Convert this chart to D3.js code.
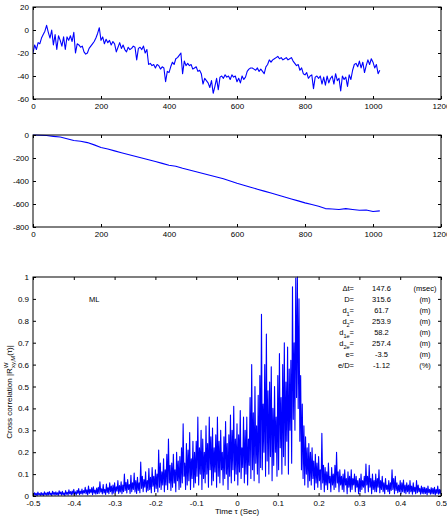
<!DOCTYPE html>
<meta charset="utf-8">
<style>
    body { margin: 0; background: #fff; }
    text { font-family: "Liberation Sans", Arial, sans-serif; fill: #000; }
    .axis text { font-size: 8px; }
    .axis path { display: none; }
    .axis line { stroke: #000; stroke-width: 1; }
    .frame { fill: none; stroke: #000; stroke-width: 1; }
    .trace { fill: none; stroke: #0000ff; stroke-width: 1.1; stroke-linejoin: round; }
    .note { font-size: 7.5px; }
</style>
<svg width="447" height="516"></svg>
<script src="https://d3js.org/d3.v7.min.js"></script>
<script>

    // panel 1: lateral offset, one value every 5 samples (0..1020)
    var offsetStep = 5;
    var offsetValues = [
        -20, -13, -17, -11, -12, -7, -4, -1,
        4, -2, -7, 0, -13, -4, -17, -5,
        -9, -14, -6, -17, -6, -9, -5, -10,
        -2, -20, -12, -13, -15, -14, -19, -21,
        -20, -16, -14, -12, -10, -7, -3, 2,
        -9, -6, -12, -8, -11, -9, -13, -10,
        -12, -19, -15, -11, -16, -13, -17, -19,
        -15, -17, -16, -14, -15, -26, -16, -15,
        -17, -14, -20, -17, -30, -29, -31, -30,
        -33, -30, -31, -34, -32, -33, -45, -36,
        -37, -32, -28, -30, -25, -24, -22, -20,
        -38, -27, -31, -29, -31, -30, -34, -33,
        -32, -36, -35, -38, -47, -42, -44, -46,
        -50, -44, -55, -49, -42, -52, -41, -40,
        -42, -39, -41, -40, -43, -39, -41, -40,
        -45, -42, -46, -40, -43, -41, -36, -34,
        -33, -33, -34, -35, -33, -36, -34, -36,
        -38, -32, -30, -26, -28, -26, -25, -24,
        -23, -25, -24, -26, -25, -24, -26, -25,
        -24, -27, -29, -31, -30, -35, -33, -38,
        -39, -37, -42, -40, -39, -51, -41, -40,
        -42, -40, -47, -41, -48, -40, -46, -42,
        -40, -47, -38, -44, -42, -53, -40, -43,
        -41, -49, -39, -43, -35, -30, -29, -32,
        -27, -33, -28, -37, -31, -26, -30, -25,
        -28, -33, -30, -38, -35
    ];

    // panel 2: cumulative drift, one value every 20 samples (0..1020)
    var driftStep = 20;
    var driftValues = [
        0, -2, -5, -12, -18, -32, -48, -55, -66, -86,
        -108, -122, -138, -154, -169, -185, -200, -215, -231, -247,
        -263, -272, -289, -304, -319, -335, -350, -365, -381, -400,
        -420, -437, -454, -471, -488, -505, -522, -539, -556, -573,
        -590, -605, -620, -640, -643, -648, -640, -648, -655, -652,
        -665, -660
    ];

    // panel 3: cross correlation, lag from -0.5 s every 2 ms
    var lagStart = -0.5, lagStep = 0.002;
    var corrValues = [
        0.010, 0.002, 0.015, 0.005, 0.012, 0.001, 0.018, 0.006, 0.011, 0.003,
        0.016, 0.004, 0.012, 0.002, 0.019, 0.007, 0.014, 0.003, 0.017, 0.005,
        0.02, 0.006, 0.013, 0.002, 0.022, 0.008, 0.016, 0.004, 0.019, 0.007,
        0.015, 0.003, 0.024, 0.009, 0.018, 0.004, 0.021, 0.006, 0.014, 0.002,
        0.025, 0.008, 0.017, 0.004, 0.028, 0.01, 0.02, 0.005, 0.023, 0.007,
        0.03, 0.009, 0.019, 0.005, 0.026, 0.012, 0.034, 0.006, 0.022, 0.01,
        0.032, 0.008, 0.025, 0.014, 0.04, 0.01, 0.028, 0.005, 0.045, 0.012,
        0.03, 0.015, 0.038, 0.006, 0.042, 0.013, 0.027, 0.008, 0.036, 0.011,
        0.04, 0.012, 0.065, 0.018, 0.033, 0.009, 0.052, 0.014, 0.03, 0.007,
        0.055, 0.016, 0.038, 0.01, 0.06, 0.02, 0.045, 0.008, 0.05, 0.013,
        0.06, 0.015, 0.042, 0.022, 0.07, 0.012, 0.048, 0.018, 0.065, 0.01,
        0.05, 0.02, 0.1, 0.025, 0.062, 0.014, 0.075, 0.03, 0.052, 0.012,
        0.095, 0.02, 0.06, 0.03, 0.105, 0.018, 0.07, 0.012, 0.085, 0.025,
        0.06, 0.015, 0.155, 0.035, 0.09, 0.02, 0.075, 0.04, 0.11, 0.018,
        0.07, 0.025, 0.125, 0.03, 0.085, 0.015, 0.13, 0.045, 0.09, 0.02,
        0.12, 0.035, 0.1, 0.018, 0.21, 0.04, 0.15, 0.03, 0.11, 0.05,
        0.17, 0.02, 0.12, 0.05, 0.19, 0.03, 0.26, 0.06, 0.14, 0.025,
        0.15, 0.04, 0.19, 0.06, 0.12, 0.02, 0.2, 0.07, 0.16, 0.03,
        0.18, 0.04, 0.22, 0.06, 0.33, 0.09, 0.15, 0.03, 0.24, 0.05,
        0.21, 0.07, 0.29, 0.03, 0.17, 0.08, 0.25, 0.04, 0.2, 0.06,
        0.25, 0.09, 0.36, 0.05, 0.22, 0.1, 0.3, 0.03, 0.26, 0.08,
        0.2, 0.06, 0.32, 0.1, 0.24, 0.04, 0.36, 0.12, 0.27, 0.05,
        0.31, 0.07, 0.22, 0.11, 0.28, 0.04, 0.36, 0.09, 0.25, 0.06,
        0.3, 0.12, 0.2, 0.05, 0.27, 0.08, 0.34, 0.1, 0.24, 0.03,
        0.28, 0.09, 0.37, 0.06, 0.3, 0.12, 0.41, 0.07, 0.26, 0.1,
        0.33, 0.05, 0.28, 0.11, 0.39, 0.08, 0.22, 0.13, 0.36, 0.06,
        0.3, 0.1, 0.36, 0.05, 0.26, 0.14, 0.45, 0.08, 0.6, 0.12,
        0.38, 0.07, 0.5, 0.15, 0.32, 0.1, 0.46, 0.06, 0.55, 0.13,
        0.83, 0.12, 0.42, 0.2, 0.6, 0.09, 0.74, 0.16, 0.48, 0.1,
        0.52, 0.18, 0.59, 0.07, 0.4, 0.14, 0.5, 0.2, 0.36, 0.09,
        0.55, 0.12, 0.65, 0.22, 0.45, 0.1, 0.6, 0.18, 0.7, 0.14,
        0.52, 0.25, 0.68, 0.1, 0.58, 0.3, 0.62, 0.15, 0.955, 0.35,
        0.7, 0.3, 0.995, 0.45, 1.0, 0.4, 0.9, 0.25, 0.55, 0.12,
        0.42, 0.08, 0.32, 0.05, 0.27, 0.1, 0.22, 0.04, 0.24, 0.07,
        0.2, 0.05, 0.22, 0.08, 0.16, 0.03, 0.19, 0.06, 0.15, 0.04,
        0.18, 0.07, 0.12, 0.03, 0.286, 0.06, 0.14, 0.02, 0.13, 0.05,
        0.11, 0.03, 0.15, 0.06, 0.09, 0.02, 0.13, 0.05, 0.1, 0.03,
        0.14, 0.04, 0.2, 0.06, 0.11, 0.02, 0.12, 0.05, 0.09, 0.03,
        0.1, 0.02, 0.12, 0.05, 0.08, 0.01, 0.11, 0.04, 0.09, 0.02,
        0.12, 0.03, 0.08, 0.05, 0.1, 0.02, 0.09, 0.04, 0.07, 0.01,
        0.08, 0.02, 0.1, 0.03, 0.07, 0.04, 0.09, 0.015, 0.146, 0.05,
        0.09, 0.02, 0.14, 0.04, 0.08, 0.01, 0.1, 0.03, 0.07, 0.02,
        0.1, 0.02, 0.08, 0.04, 0.12, 0.015, 0.07, 0.03, 0.09, 0.02,
        0.06, 0.01, 0.08, 0.03, 0.05, 0.02, 0.07, 0.01, 0.06, 0.025,
        0.12, 0.03, 0.08, 0.01, 0.09, 0.025, 0.06, 0.015, 0.05, 0.02,
        0.07, 0.01, 0.06, 0.02, 0.073, 0.015, 0.05, 0.01, 0.06, 0.02,
        0.05, 0.01, 0.07, 0.02, 0.045, 0.008, 0.06, 0.02, 0.04, 0.01,
        0.07, 0.015, 0.05, 0.02, 0.035, 0.008, 0.045, 0.012, 0.04, 0.01,
        0.04, 0.012, 0.035, 0.005, 0.045, 0.015, 0.03, 0.008, 0.038, 0.01,
        0.035, 0.01, 0.04, 0.005, 0.03, 0.012, 0.045, 0.008, 0.03, 0.01,
        0.03
    ];

    var sampleTicks = [0, 200, 400, 600, 800, 1000, 1200];
    var offsetTicks = [20, 0, -20, -40, -60];
    var driftTicks = [0, -200, -400, -600, -800];
    var lagTicks = [-0.5, -0.4, -0.3, -0.2, -0.1, 0, 0.1, 0.2, 0.3, 0.4, 0.5];
    var corrTicks = [0, 0.1, 0.2, 0.3, 0.4, 0.5, 0.6, 0.7, 0.8, 0.9, 1];

    var noteLabels = ["\u0394t=", "D=", "d|1|=", "d|2|=", "d|1e|=", "d|2e|=", "e=", "e/D="];
    var noteValues = ["147.6", "315.6", "61.7", "253.9", "58.2", "257.4", "-3.5", "-1.12"];
    var noteUnits = ["(msec)", "(m)", "(m)", "(m)", "(m)", "(m)", "(m)", "(%)"];

    var svg = d3.select("svg");
    var left = 33, right = 441;
    var fmt = function(d) { return String(+d.toFixed(2)); };

    function panel(id, xDom, yDom, top, bottom, xTicks, yTicks, points) {
        var x = d3.scaleLinear().domain(xDom).range([left, right]);
        var y = d3.scaleLinear().domain(yDom).range([bottom, top]);

        svg.append("clipPath").attr("id", id)
            .append("rect")
            .attr("x", left).attr("y", top - 1)
            .attr("width", right - left).attr("height", bottom - top + 2);

        svg.append("path")
            .datum(points)
            .attr("class", "trace")
            .attr("clip-path", "url(#" + id + ")")
            .attr("d", d3.line()
                .x(function(d) { return x(d[0]); })
                .y(function(d) { return y(d[1]); }));

        svg.append("g").attr("class", "axis")
            .attr("transform", "translate(0," + bottom + ")")
            .call(d3.axisBottom(x).tickValues(xTicks).tickFormat(fmt)
                .tickSizeInner(-3).tickSizeOuter(0).tickPadding(4));
        svg.append("g").attr("class", "axis")
            .attr("transform", "translate(0," + top + ")")
            .call(d3.axisTop(x).tickValues(xTicks).tickFormat("")
                .tickSizeInner(-3).tickSizeOuter(0));
        svg.append("g").attr("class", "axis")
            .attr("transform", "translate(" + left + ",0)")
            .call(d3.axisLeft(y).tickValues(yTicks).tickFormat(fmt)
                .tickSizeInner(-3).tickSizeOuter(0).tickPadding(4));
        svg.append("g").attr("class", "axis")
            .attr("transform", "translate(" + right + ",0)")
            .call(d3.axisRight(y).tickValues(yTicks).tickFormat("")
                .tickSizeInner(-3).tickSizeOuter(0));

        svg.append("rect").attr("class", "frame")
            .attr("x", left).attr("y", top)
            .attr("width", right - left).attr("height", bottom - top);
        return { x: x, y: y };
    }

    panel("c1", [0, 1200], [-60, 20], 7, 99, sampleTicks, offsetTicks,
        offsetValues.map(function(v, i) { return [i * offsetStep, v]; }));

    panel("c2", [0, 1200], [-800, 0], 135, 227, sampleTicks, driftTicks,
        driftValues.map(function(v, i) { return [i * driftStep, v]; }));

    var p3 = panel("c3", [-0.5, 0.5], [0, 1], 277, 496, lagTicks, corrTicks,
        corrValues.map(function(v, i) { return [lagStart + i * lagStep, v]; }));

    svg.append("text").attr("class", "note")
        .attr("x", 89).attr("y", 302).attr("font-size", "7px").text("ML");

    // table of estimates
    function richText(sel, s) {
        var parts = s.split("|");
        parts.forEach(function(p, k) {
            if (!p) return;
            var t = sel.append("tspan").text(p);
            if (k === 1) t.attr("dy", 3).attr("font-size", "5.5px");
            if (k === 2) t.attr("dy", -3);
        });
    }
    noteLabels.forEach(function(lbl, i) {
        var yy = 291 + i * 11;
        var t = svg.append("text").attr("class", "note")
            .attr("x", 354).attr("y", yy).attr("text-anchor", "end");
        richText(t, lbl);
        svg.append("text").attr("class", "note")
            .attr("x", 381.5).attr("y", yy).attr("text-anchor", "middle")
            .text(noteValues[i]);
        svg.append("text").attr("class", "note")
            .attr("x", 425).attr("y", yy).attr("text-anchor", "middle")
            .text(noteUnits[i]);
    });

    svg.append("text")
        .attr("x", p3.x(0)).attr("y", 513.5)
        .attr("text-anchor", "middle").attr("font-size", "8px")
        .text("Time \u03c4 (Sec)");

    var yl = svg.append("text")
        .attr("transform", "translate(12,392) rotate(-90)")
        .attr("text-anchor", "middle").attr("font-size", "8px");
    yl.append("tspan").text("Cross correlation |R");
    yl.append("tspan").attr("dy", -4).attr("font-size", "6px").text("W");
    yl.append("tspan").attr("dx", -5.5).attr("dy", 7).attr("font-size", "6px").text("xy,M");
    yl.append("tspan").attr("dy", -3).text("(\u03c4)|");

</script>
